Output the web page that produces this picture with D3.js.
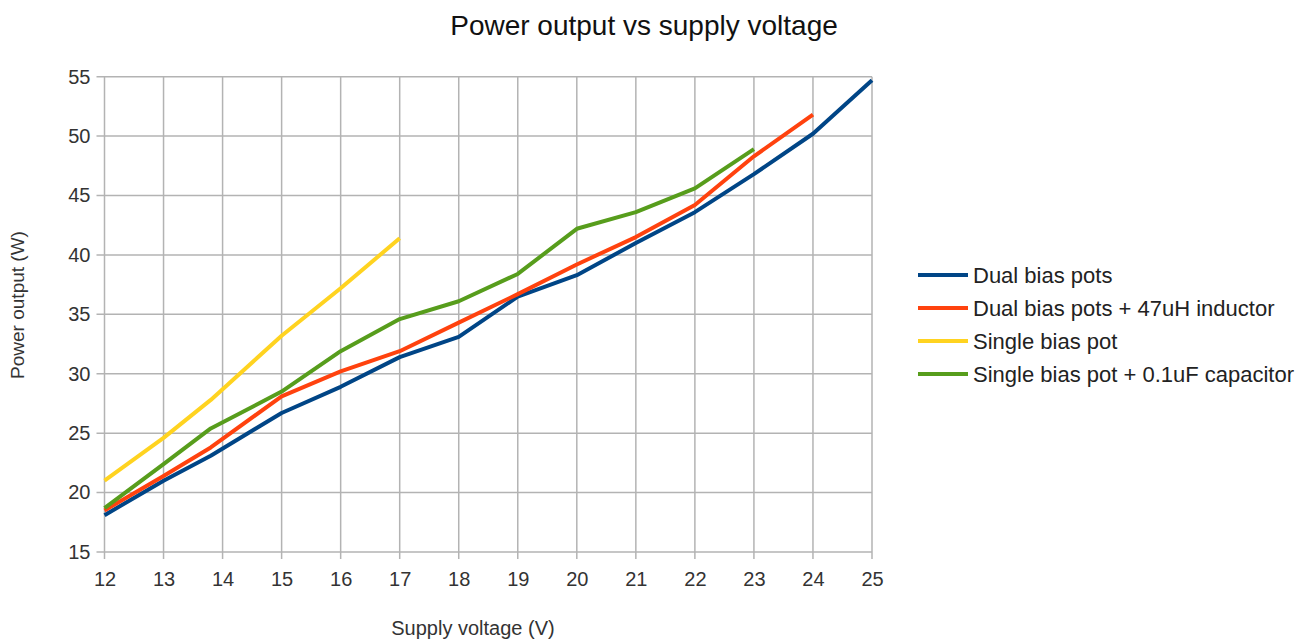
<!DOCTYPE html>
<html>
<head>
<meta charset="utf-8">
<script src="https://cdn.jsdelivr.net/npm/d3@7"></script>
<style>
  html, body { margin: 0; padding: 0; background: #fff; }
  svg { display: block; font-family: "Liberation Sans", Arial, sans-serif; }
</style>
</head>
<body>
<svg id="chart" width="1309" height="640"></svg>
<script>
// Measured supply voltages (V) for each configuration
const voltsDual = [12, 13, 13.8, 15, 16, 17, 18, 19, 20, 21, 22, 23, 24, 25];
const voltsDualInductor = [12, 13, 13.8, 15, 16, 17, 18, 19, 20, 21, 22, 23, 24];
const voltsSingle = [12, 13, 13.8, 15, 16, 17];
const voltsSingleCap = [12, 13, 13.8, 15, 16, 17, 18, 19, 20, 21, 22, 23];

// Power output (W)
const powerDual = [18.1, 21.0, 23.1, 26.7, 28.9, 31.4, 33.1, 36.5, 38.3, 41.0, 43.6, 46.8, 50.2, 54.7];
const powerDualInductor = [18.5, 21.4, 23.8, 28.1, 30.2, 31.9, 34.3, 36.7, 39.2, 41.5, 44.2, 48.3, 51.8];
const powerSingle = [21.0, 24.6, 27.8, 33.2, 37.2, 41.4];
const powerSingleCap = [18.7, 22.4, 25.4, 28.5, 31.9, 34.6, 36.1, 38.4, 42.2, 43.6, 45.6, 48.9];

const seriesNames = [
  "Dual bias pots",
  "Dual bias pots + 47uH inductor",
  "Single bias pot",
  "Single bias pot + 0.1uF capacitor"
];
const seriesColors = ["#004586", "#ff420e", "#ffd320", "#579d1c"];

const xTicks = [12, 13, 14, 15, 16, 17, 18, 19, 20, 21, 22, 23, 24, 25];
const yTicks = [15, 20, 25, 30, 35, 40, 45, 50, 55];

const series = [
  { name: seriesNames[0], color: seriesColors[0], xs: voltsDual, ys: powerDual },
  { name: seriesNames[1], color: seriesColors[1], xs: voltsDualInductor, ys: powerDualInductor },
  { name: seriesNames[2], color: seriesColors[2], xs: voltsSingle, ys: powerSingle },
  { name: seriesNames[3], color: seriesColors[3], xs: voltsSingleCap, ys: powerSingleCap }
];

const svg = d3.select("#chart");
const plot = { left: 104.5, right: 872, top: 76.7, bottom: 552 };

const x = d3.scaleLinear().domain([12, 25]).range([plot.left, plot.right]);
const y = d3.scaleLinear().domain([15, 55]).range([plot.bottom, plot.top]);

const gridColor = "#b3b3b3";
const fontFamily = "Liberation Sans, Arial, sans-serif";

// Gridlines
svg.append("g")
  .selectAll("line")
  .data(xTicks)
  .join("line")
  .attr("x1", d => x(d)).attr("x2", d => x(d))
  .attr("y1", plot.top).attr("y2", plot.bottom + 7)
  .attr("stroke", gridColor).attr("stroke-width", 1.5);

svg.append("g")
  .selectAll("line")
  .data(yTicks)
  .join("line")
  .attr("x1", plot.left - 8).attr("x2", plot.right)
  .attr("y1", d => y(d)).attr("y2", d => y(d))
  .attr("stroke", gridColor).attr("stroke-width", 1.5);

// Axis labels (grid lines carry the ticks)
const xAxis = svg.append("g")
  .attr("transform", `translate(0,${plot.bottom})`)
  .call(d3.axisBottom(x).tickValues(xTicks).tickSize(0).tickPadding(20).tickFormat(d3.format("d")));
xAxis.select(".domain").remove();
xAxis.selectAll("text").attr("font-size", 20).attr("fill", "#333").attr("font-family", fontFamily);

const yAxis = svg.append("g")
  .attr("transform", `translate(${plot.left},0)`)
  .call(d3.axisLeft(y).tickValues(yTicks).tickSize(0).tickPadding(14).tickFormat(d3.format("d")));
yAxis.select(".domain").remove();
yAxis.selectAll("text").attr("font-size", 20).attr("fill", "#333").attr("font-family", fontFamily);

// Series lines
const line = d3.line().x(d => x(d[0])).y(d => y(d[1]));
svg.append("g")
  .selectAll("path")
  .data(series)
  .join("path")
  .attr("d", s => line(s.xs.map((v, i) => [v, s.ys[i]])))
  .attr("fill", "none")
  .attr("stroke", s => s.color)
  .attr("stroke-width", 4)
  .attr("stroke-linejoin", "round");

// Title
svg.append("text")
  .attr("x", 644).attr("y", 35)
  .attr("text-anchor", "middle")
  .attr("font-size", 28)
  .attr("fill", "#111")
  .text("Power output vs supply voltage");

// Axis titles
svg.append("text")
  .attr("x", 473).attr("y", 635)
  .attr("text-anchor", "middle")
  .attr("font-size", 20)
  .attr("fill", "#333")
  .text("Supply voltage (V)");

svg.append("text")
  .attr("transform", "translate(24,305) rotate(-90)")
  .attr("text-anchor", "middle")
  .attr("font-size", 19)
  .attr("fill", "#333")
  .text("Power output (W)");

// Legend
const legend = svg.append("g").attr("transform", "translate(918,275)");
const items = legend.selectAll("g")
  .data(series)
  .join("g")
  .attr("transform", (d, i) => `translate(0,${i * 33})`);
items.append("line")
  .attr("x1", 0).attr("x2", 50)
  .attr("stroke", d => d.color)
  .attr("stroke-width", 4);
items.append("text")
  .attr("x", 55).attr("y", 8)
  .attr("font-size", 22)
  .attr("fill", "#222")
  .text(d => d.name);
</script>
</body>
</html>
